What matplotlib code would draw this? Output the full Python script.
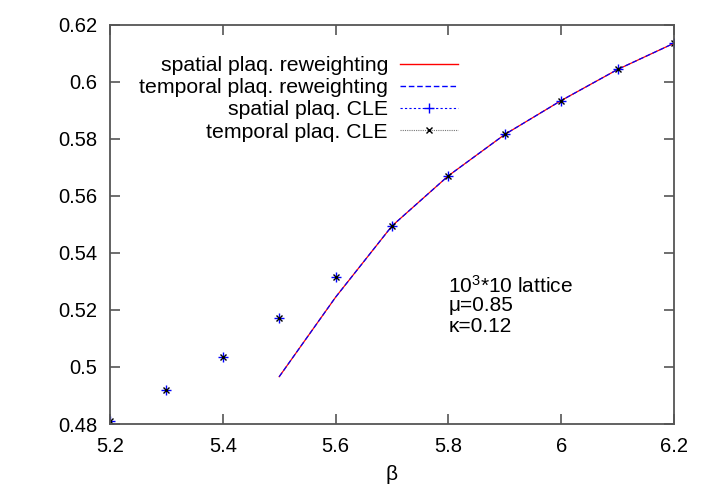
import matplotlib
matplotlib.use("Agg")
import matplotlib.pyplot as plt
from matplotlib.lines import Line2D
from matplotlib.ticker import FuncFormatter

plt.rcParams["font.family"] = ["Liberation Sans", "DejaVu Sans"]
plt.rcParams["mathtext.fontset"] = "custom"
plt.rcParams["mathtext.rm"] = "Liberation Sans"
plt.rcParams["mathtext.it"] = "Liberation Sans"

# reweighting curves
beta_rw = [5.5, 5.6, 5.7, 5.8, 5.9, 6.0, 6.1, 6.2]
spatial_rw = [0.4966, 0.5245, 0.5495, 0.5671, 0.5816, 0.5935, 0.6044, 0.6136]
temporal_rw = [0.4966, 0.5245, 0.5495, 0.5671, 0.5816, 0.5935, 0.6044, 0.6136]

# complex Langevin points
beta_cle = [5.2, 5.3, 5.4, 5.5, 5.6, 5.7, 5.8, 5.9, 6.0, 6.1, 6.2]
spatial_cle = [0.4811, 0.4919, 0.5034, 0.5173, 0.5317, 0.5495, 0.5671, 0.5816, 0.5935, 0.6044, 0.6136]
temporal_cle = [0.4811, 0.4919, 0.5034, 0.5173, 0.5317, 0.5495, 0.5671, 0.5816, 0.5935, 0.6044, 0.6136]

xticks = [5.2, 5.4, 5.6, 5.8, 6.0, 6.2]
yticks = [0.48, 0.5, 0.52, 0.54, 0.56, 0.58, 0.6, 0.62]

fig = plt.figure(figsize=(7.06, 4.94), dpi=100)
ax = fig.add_axes([0.1558, 0.1417, 0.7989, 0.8077])

ax.plot(beta_rw, spatial_rw, color="#ff0000", lw=0.9)
ax.plot(beta_rw, temporal_rw, color="#0000ff", lw=0.9, ls=(0, (4, 2)))
ax.plot(beta_cle, spatial_cle, ls="none", marker="+", ms=7, mew=1.0, color="#0000ff")
ax.plot(beta_cle, temporal_cle, ls="none", marker="x", ms=5, mew=1.0, color="black")

ax.set_xlim(5.2, 6.2)
ax.set_ylim(0.48, 0.62)
ax.set_xticks(xticks)
ax.set_yticks(yticks)
fmt = FuncFormatter(lambda v, p: "%g" % round(v, 4))
ax.xaxis.set_major_formatter(fmt)
ax.yaxis.set_major_formatter(fmt)
ax.tick_params(direction="in", length=7, width=1.2, color="#555555",
               top=True, right=True, labelsize=14.5, pad=9)
for s in ax.spines.values():
    s.set_color("#555555")
    s.set_linewidth(1.3)

ax.set_xlabel(r"β", fontsize=15, labelpad=7)

ax.text(5.8, 0.5262, r"$10^3$*10 lattice", fontsize=15, va="baseline")
ax.text(5.8, 0.5198, "μ=0.85", fontsize=15, va="baseline")
ax.text(5.8, 0.5122, "κ=0.12", fontsize=15, va="baseline")

handles = [
    Line2D([], [], color="#ff0000", lw=1.0),
    Line2D([], [], color="#0000ff", lw=1.0, ls=(0, (4, 2))),
    Line2D([], [], color="#0000ff", lw=0.8, ls=(0, (2, 2)), marker="+", ms=7),
    Line2D([], [], color="#777777", lw=0.8, ls=(0, (1, 1)), marker="x", ms=5,
           mec="black"),
]
labels = ["spatial plaq. reweighting", "temporal plaq. reweighting",
          "spatial plaq. CLE", "temporal plaq. CLE"]
leg = ax.legend(handles, labels, loc="upper right", bbox_to_anchor=(0.651, 0.97),
                frameon=False, markerfirst=False, fontsize=15.3, numpoints=1,
                handlelength=2.75, labelspacing=0.15, handletextpad=0.55)
for t in leg.get_texts():
    t.set_ha("right")
leg._legend_box.align = "right"

fig.savefig("out.png", dpi=100)
